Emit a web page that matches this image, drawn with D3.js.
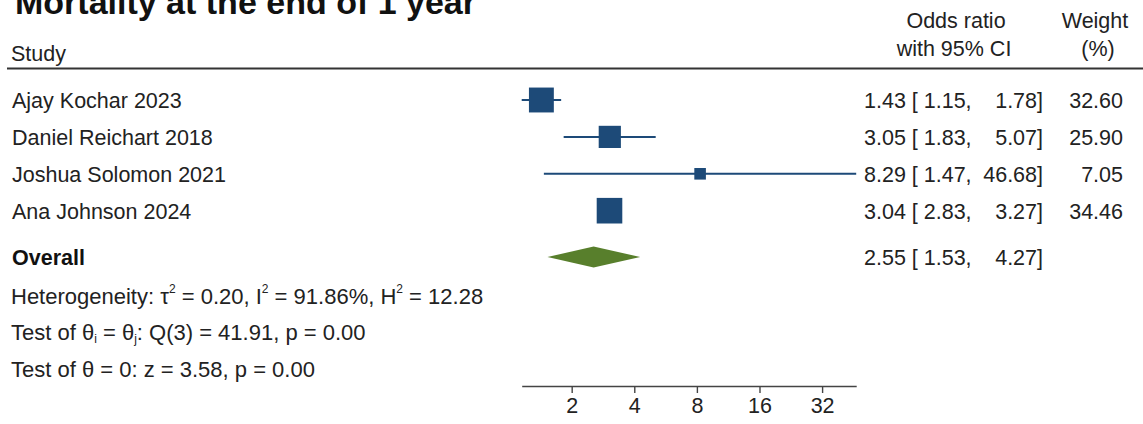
<!DOCTYPE html>
<html>
<head>
<meta charset="utf-8">
<script src="https://cdn.jsdelivr.net/npm/d3@7"></script>
<style>
  html, body { margin: 0; padding: 0; background: #fff; }
  svg { display: block; }
  text { font-family: "Liberation Sans", Arial, Helvetica, sans-serif; fill: #222; }
</style>
</head>
<body>
<svg id="chart" width="1143" height="424"></svg>
<script>
// Study-level results (odds ratios, 95% CI, random-effects weights)
const studies = ["Ajay Kochar 2023", "Daniel Reichart 2018", "Joshua Solomon 2021", "Ana Johnson 2024"];
const oddsRatios = [1.43, 3.05, 8.29, 3.04];
const ciLower = [1.15, 1.83, 1.47, 2.83];
const ciUpper = [1.78, 5.07, 46.68, 3.27];
const weights = [32.60, 25.90, 7.05, 34.46];

// Pooled estimate
const overallLabel = "Overall";
const overallOR = 2.55;
const overallLower = 1.53;
const overallUpper = 4.27;

// Axis ticks (log2 scale)
const axisTicks = [2, 4, 8, 16, 32];

const fmt = d3.format(".2f");
const svg = d3.select("#chart");

const W = 1143;
const navy = "#1d4a78";
const green = "#587f2c";
const fs = "21.5px";

// Horizontal log scale spanning the full range of confidence limits
const x = d3.scaleLog().base(2)
  .domain([d3.min(ciLower), d3.max(ciUpper)])
  .range([521.7, 856.2]);

// Study rows
const y = d3.scalePoint().domain(studies).range([100, 210.7]);
const overallY = 257;

// Marker side proportional to sqrt(weight)
const side = d3.scaleSqrt().domain([0, d3.max(weights)]).range([0, 25.6]);

// Title
svg.append("text")
  .attr("x", 15).attr("y", 14)
  .style("font-size", "34px").style("font-weight", "bold").style("fill", "#111")
  .text("Mortality at the end of 1 year");

// Column headers
const hdr = svg.append("g").style("font-size", fs);
hdr.append("text").attr("x", 11).attr("y", 61).text("Study");
hdr.append("text").attr("x", 956).attr("y", 28).attr("text-anchor", "middle").text("Odds ratio");
hdr.append("text").attr("x", 954).attr("y", 56).attr("text-anchor", "middle").text("with 95% CI");
hdr.append("text").attr("x", 1095).attr("y", 28).attr("text-anchor", "middle").text("Weight");
hdr.append("text").attr("x", 1098).attr("y", 56).attr("text-anchor", "middle").text("(%)");

svg.append("line")
  .attr("x1", 7).attr("x2", W).attr("y1", 68.5).attr("y2", 68.5)
  .attr("stroke", "#333").attr("stroke-width", 2);

const rows = studies.map((s, i) => ({
  name: s, or: oddsRatios[i], lo: ciLower[i], hi: ciUpper[i], w: weights[i]
}));

const rowG = svg.append("g").selectAll("g").data(rows).join("g");

// CI lines
rowG.append("line")
  .attr("x1", d => x(d.lo)).attr("x2", d => x(d.hi))
  .attr("y1", d => y(d.name)).attr("y2", d => y(d.name))
  .attr("stroke", navy).attr("stroke-width", 2);

// Weighted squares
rowG.append("rect")
  .attr("x", d => x(d.or) - side(d.w) / 2)
  .attr("y", d => y(d.name) - side(d.w) / 2)
  .attr("width", d => side(d.w)).attr("height", d => side(d.w))
  .attr("fill", navy);

// Labels and numeric columns
rowG.append("text")
  .attr("x", 12).attr("y", d => y(d.name) + 8)
  .style("font-size", fs).text(d => d.name);
rowG.append("text")
  .attr("x", 864).attr("y", d => y(d.name) + 8)
  .style("font-size", fs).attr("xml:space", "preserve")
  .text(d => `${fmt(d.or)} [ ${fmt(d.lo)},`);
rowG.append("text")
  .attr("x", 1043).attr("y", d => y(d.name) + 8).attr("text-anchor", "end")
  .style("font-size", fs).text(d => `${fmt(d.hi)}]`);
rowG.append("text")
  .attr("x", 1123).attr("y", d => y(d.name) + 8).attr("text-anchor", "end")
  .style("font-size", fs).text(d => fmt(d.w));

// Overall diamond
const dh = 10.5;
svg.append("path")
  .attr("d", d3.line()([
    [x(overallLower), overallY],
    [x(overallOR), overallY - dh],
    [x(overallUpper), overallY],
    [x(overallOR), overallY + dh]
  ]) + "Z")
  .attr("fill", green);

svg.append("text")
  .attr("x", 12).attr("y", overallY + 8)
  .style("font-size", fs).style("font-weight", "bold").style("fill", "#111")
  .text(overallLabel);
svg.append("text")
  .attr("x", 864).attr("y", overallY + 8)
  .style("font-size", fs).attr("xml:space", "preserve")
  .text(`${fmt(overallOR)} [ ${fmt(overallLower)},`);
svg.append("text")
  .attr("x", 1043).attr("y", overallY + 8).attr("text-anchor", "end")
  .style("font-size", fs).text(`${fmt(overallUpper)}]`);

// Heterogeneity and test statistics
const stats = svg.append("g").style("font-size", "22px");
const t1 = stats.append("text").attr("x", 11).attr("y", 304);
t1.append("tspan").text("Heterogeneity: τ");
t1.append("tspan").attr("dy", -11).style("font-size", "12px").text("2");
t1.append("tspan").attr("dy", 11).text(" = 0.20, I");
t1.append("tspan").attr("dy", -11).style("font-size", "12px").text("2");
t1.append("tspan").attr("dy", 11).text(" = 91.86%, H");
t1.append("tspan").attr("dy", -11).style("font-size", "12px").text("2");
t1.append("tspan").attr("dy", 11).text(" = 12.28");

const t2 = stats.append("text").attr("x", 11).attr("y", 340);
t2.append("tspan").text("Test of θ");
t2.append("tspan").attr("dy", 3).style("font-size", "12px").text("i");
t2.append("tspan").attr("dy", -3).text(" = θ");
t2.append("tspan").attr("dy", 3).style("font-size", "12px").text("j");
t2.append("tspan").attr("dy", -3).text(": Q(3) = 41.91, p = 0.00");

stats.append("text").attr("x", 11).attr("y", 377)
  .text("Test of θ = 0: z = 3.58, p = 0.00");

// Bottom axis
const axis = svg.append("g")
  .attr("transform", "translate(0,386)")
  .call(d3.axisBottom(x).tickValues(axisTicks).tickFormat(d3.format("d"))
    .tickSizeInner(7).tickSizeOuter(0).tickPadding(5));
axis.select(".domain").attr("stroke", "#444").attr("stroke-width", 1.6);
axis.selectAll(".tick line").attr("stroke", "#444").attr("stroke-width", 1.4);
axis.selectAll(".tick text")
  .style("font-size", fs).style("font-family", "\"Liberation Sans\", Arial, sans-serif")
  .attr("fill", "#222");
</script>
</body>
</html>
